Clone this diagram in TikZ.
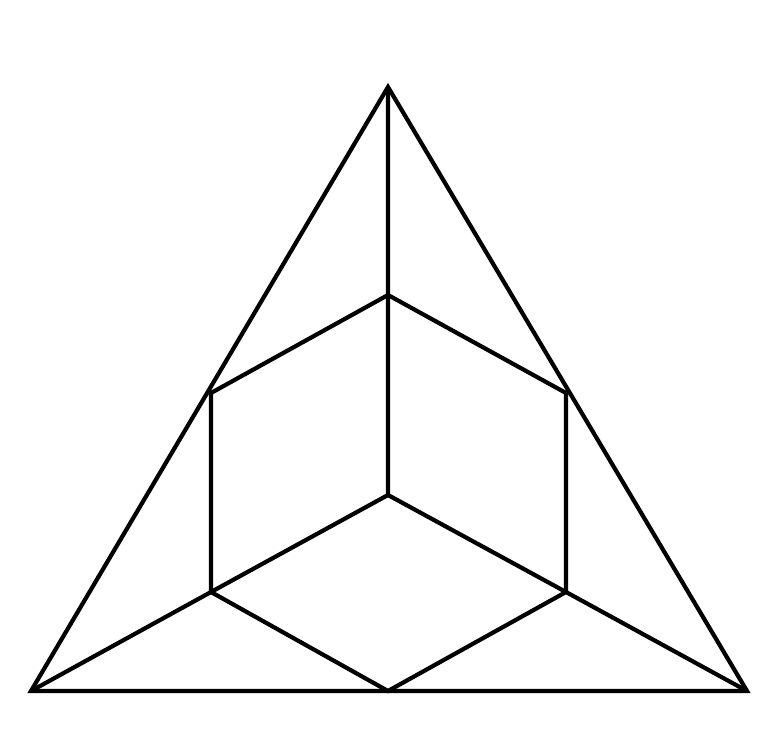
\documentclass[tikz,border=0pt]{standalone}
\usepackage{tikz}

\begin{document}
\begin{tikzpicture}[x=1pt,y=-1pt,line width=4.2pt,line join=miter]
			\useasboundingbox (0,0) rectangle (777,753);
			% outer triangle
			\coordinate (t) at (388,87);
			\coordinate (l) at (31,691);
			\coordinate (r) at (747,691);
			% hexagon
			\coordinate (h-1) at (388,295);
			\coordinate (h-2) at (566,393);
			\coordinate (h-3) at (566,592);
			\coordinate (h-4) at (388,691);
			\coordinate (h-5) at (211,592);
			\coordinate (h-6) at (211,393);
			\coordinate (c) at (388,495);
			\draw (t) -- (l) -- (r) -- cycle;
			\draw (h-1) -- (h-2) -- (h-3) -- (h-4) -- (h-5) -- (h-6) -- cycle;
			\draw (t) -- (h-1) -- (c) -- (h-3) -- (r);
			\draw (c) -- (h-5) -- (l);
		\end{tikzpicture}
\end{document}
